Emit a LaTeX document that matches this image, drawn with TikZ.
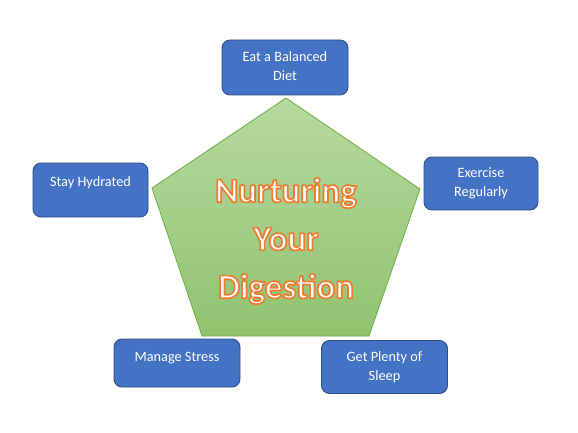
\documentclass[tikz,border=0pt]{standalone}
\usepackage{fontspec}
\setmainfont{Carlito}
\usetikzlibrary{calc}
\definecolor{boxfill}{HTML}{4472C4}
\definecolor{boxline}{HTML}{2F4F8A}
\definecolor{pentline}{HTML}{70AD47}
\definecolor{penttop}{HTML}{B6D9A0}
\definecolor{pentbot}{HTML}{90C36F}
\newcommand{\outlineon}{\special{pdf:literal direct 2 Tr 1.7 w 1 j 0.93 0.49 0.19 RG}}
\newcommand{\outlineoff}{\special{pdf:literal direct 0 Tr 1 w 0 j}}
\begin{document}
\begin{tikzpicture}[x=1pt,y=-1pt,
  bluebox/.style={draw=boxline, line width=0.9pt, fill=boxfill, rounded corners=8pt, inner sep=0pt},
  boxtext/.style={anchor=north, text=white, align=center, inner sep=0pt, font=\fontsize{14.3}{19}\selectfont},
  bigtext/.style={align=center, inner sep=0pt, font=\fontsize{35}{48}\selectfont\bfseries}]
\useasboundingbox (0,0) rectangle (578,433);
\fill[white] (0,0) rectangle (578,433);
% pentagon
\coordinate (pt) at (286,98);
\coordinate (pr) at (420,189);
\coordinate (pbr) at (369,336);
\coordinate (pbl) at (202,336);
\coordinate (pl) at (152,188);
\shade[top color=penttop, bottom color=pentbot] (pt) -- (pr) -- (pbr) -- (pbl) -- (pl) -- cycle;
\draw[pentline, line width=0.8pt, line join=miter] (pt) -- (pr) -- (pbr) -- (pbl) -- (pl) -- cycle;
% central text: white fill with orange outline
\node[bigtext, text=white] (title) at (286,241) {\outlineon Nurturing\\Your\\Digestion\outlineoff};
% boxes
\node[bluebox, minimum width=126, minimum height=55] (eat) at (285,67.5) {};
\node[boxtext] (eatt) at ([yshift=-12]eat.north) {Eat a Balanced\\Diet};
\node[bluebox, minimum width=115, minimum height=54] (hyd) at (90.5,190) {};
\node[boxtext] (hydt) at ([yshift=-13.5]hyd.north) {Stay Hydrated};
\node[bluebox, minimum width=114, minimum height=53] (exe) at (481,183.5) {};
\node[boxtext] (exet) at ([yshift=-11]exe.north) {Exercise\\Regularly};
\node[bluebox, minimum width=126, minimum height=48] (str) at (177,363) {};
\node[boxtext] (strt) at ([yshift=-13]str.north) {Manage Stress};
\node[bluebox, minimum width=126, minimum height=53] (slp) at (384.5,367) {};
\node[boxtext] (slpt) at ([yshift=-11]slp.north) {Get Plenty of\\Sleep};
\end{tikzpicture}
\end{document}
